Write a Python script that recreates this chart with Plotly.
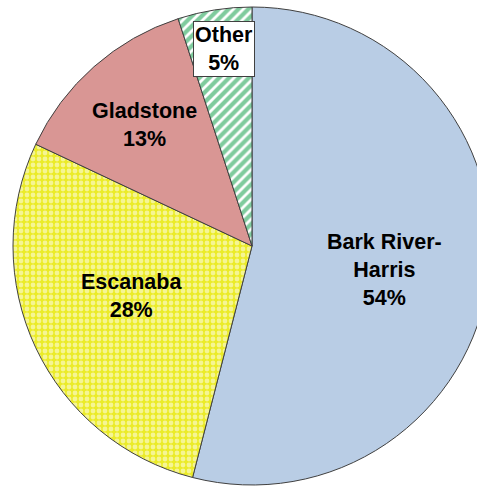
import plotly.graph_objects as go

# Share of total by school district
districts = ["Bark River-<br>Harris", "Escanaba", "Gladstone", "Other"]
shares = [54, 28, 13, 5]

base_colors = ["#B9CDE5", "#EBEB28", "#D99694", "#FFFFFF"]
pattern_shapes = ["", ".", "", "/"]
pattern_fg = ["#B9CDE5", "#FFFFFF", "#D99694", "#00983C"]

# Label anchor points in pixels (x from left, y from top)
label_px = [(384, 270), (131, 296), (144, 125), (224, 49)]

W, H = 492, 487
cx, cy, r = 252, 246, 239

fig = go.Figure(
    go.Pie(
        labels=[d.replace("<br>", " ") for d in districts],
        values=shares,
        sort=False,
        direction="clockwise",
        rotation=0,
        textinfo="none",
        hoverinfo="label+percent",
        showlegend=False,
        marker=dict(
            colors=base_colors,
            line=dict(color="#404040", width=1),
            pattern=dict(
                shape=pattern_shapes,
                fgcolor=pattern_fg,
                fillmode="overlay",
                size=[8, 6, 8, 7],
                solidity=[0.3, 0.5, 0.3, 0.6],
            ),
        ),
        domain=dict(
            x=[(cx - r) / W, (cx + r) / W],
            y=[(H - (cy + r)) / H, (H - (cy - r)) / H],
        ),
    )
)

annotations = []
for name, val, (px, py) in zip(districts, shares, label_px):
    boxed = name == "Other"
    annotations.append(
        dict(
            text=f"<b>{name}<br>{val}%</b>",
            x=px / W,
            y=1 - py / H,
            xref="paper",
            yref="paper",
            xanchor="center",
            yanchor="middle",
            showarrow=False,
            align="center",
            font=dict(family="Arial, Liberation Sans, sans-serif", size=21.5, color="#000000"),
            bgcolor="#FFFFFF" if boxed else None,
            bordercolor="#404040" if boxed else None,
            borderwidth=1 if boxed else 0,
            borderpad=1,
        )
    )

fig.update_layout(
    width=W,
    height=H,
    margin=dict(l=0, r=0, t=0, b=0),
    paper_bgcolor="#FFFFFF",
    plot_bgcolor="#FFFFFF",
    annotations=annotations,
)

fig.write_html(
    "out.html",
    post_script="document.documentElement.style.overflow='hidden';document.body.style.overflow='hidden';",
)
